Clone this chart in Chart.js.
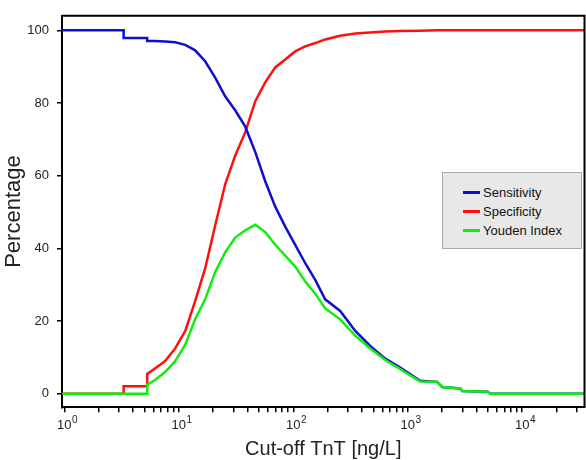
<!DOCTYPE html>
<html lang="en">
<head>
  <meta charset="UTF-8">
  <title>Sensitivity, Specificity and Youden Index by TnT cut-off</title>
  <script src="https://cdn.jsdelivr.net/npm/chart.js"></script>
  <style>
    body { margin: 0; background: #fff; font-family: "Liberation Sans", Arial, Helvetica, sans-serif; }
    .wrap { position: relative; width: 586px; height: 460px; }
    #legendBox {
      position: absolute; left: 442px; top: 172px; width: 140px; height: 77px;
      background: #e8e8e8; border: 1px solid #a8a8a8; box-sizing: border-box;
      font-size: 13px; color: #111; padding-top: 10px;
    }
    .item { display: flex; align-items: center; height: 19px; padding-left: 20px; }
    .swatch { width: 17px; height: 3px; margin-right: 3px; }
  </style>
</head>
<body>
  <div class="wrap">
    <canvas id="chart" width="586" height="460"></canvas>
    <div id="legendBox"></div>
  </div>

  <script>
    const cutoffs = [0.96, 3.3, 3.3, 5.3, 5.3, 6.2, 7.6, 9.3, 11.4, 13.9, 17.0, 20.8, 25.5, 31.1, 38.1, 46.6,
      56.9, 69.6, 85.1, 104, 127, 156, 190, 257, 348, 470, 636, 860, 1285, 1800, 2000, 2876, 3000, 5000, 5260, 35000];
    const sensitivity = [100, 100, 97.9, 97.9, 97.1, 97.1, 96.9, 96.7, 96.0, 94.5, 91.5, 87.0, 81.8, 78.0, 73.5, 66.5,
      58.5, 51.5, 46.0, 41.0, 36.0, 31.3, 26.0, 22.8, 17.3, 13.2, 9.7, 7.2, 3.6, 3.3, 1.9, 1.5, 0.8, 0.6, 0, 0];
    const specificity = [0, 0, 2.1, 2.1, 5.5, 7.0, 9.0, 12.5, 17.3, 25.5, 34.5, 46.3, 57.8, 65.5, 72.0, 80.5,
      85.7, 89.8, 92.0, 94.2, 95.6, 96.5, 97.5, 98.5, 99.1, 99.4, 99.7, 99.8, 99.9, 100, 100, 100, 100, 100, 100, 100];
    const youden = [0, 0, 0, 0, 2.5, 3.8, 6.0, 9.0, 13.5, 20.5, 26.0, 33.5, 39.0, 43.0, 45.0, 46.5,
      44.5, 41.0, 38.0, 35.0, 31.0, 27.5, 23.5, 20.5, 16.0, 12.5, 9.3, 6.8, 3.4, 3.3, 1.9, 1.5, 0.8, 0.6, 0, 0];

    const seriesNames = ["Sensitivity", "Specificity", "Youden Index"];
    const seriesColors = ["#1010cc", "#ff1010", "#10ee10"];

    const xMajorTicks = [1, 10, 100, 1000, 10000];
    const xExponents = ["0", "1", "2", "3", "4"];
    const yTicks = [0, 20, 40, 60, 80, 100];

    const xMin = 0.955, xMax = 35000;
    const fontFamily = "'Liberation Sans', Arial, sans-serif";

    // minor ticks 2..9 inside every decade
    const xTickList = [];
    xMajorTicks.forEach(d => {
      for (let m = 1; m <= 9; m++) {
        if (d * m <= xMax) xTickList.push(d * m);
      }
    });

    const toPoints = arr => arr.map((v, i) => ({ x: cutoffs[i], y: v }));

    // top/right frame lines + "10^n" labels under the log axis
    const frame = {
      id: "frame",
      afterDatasetsDraw(chart) {
        const { ctx, chartArea: a } = chart;
        ctx.save();
        ctx.strokeStyle = "#000";
        ctx.lineWidth = 2;
        ctx.beginPath();
        ctx.moveTo(a.left, a.top);
        ctx.lineTo(a.right, a.top);
        ctx.lineTo(a.right, a.bottom);
        ctx.stroke();
        ctx.restore();
      },
      afterDraw(chart) {
        const { ctx } = chart;
        const xs = chart.scales.x;
        ctx.save();
        ctx.fillStyle = "#222";
        ctx.textBaseline = "alphabetic";
        xMajorTicks.forEach((v, i) => {
          const px = xs.getPixelForValue(v);
          ctx.font = "13px " + fontFamily;
          ctx.textAlign = "center";
          ctx.fillText("10", px, 429);
          const w = ctx.measureText("10").width;
          ctx.font = "10px " + fontFamily;
          ctx.textAlign = "left";
          ctx.fillText(xExponents[i], px + w / 2 + 0.5, 423);
        });
        ctx.restore();
      }
    };

    const data = [sensitivity, specificity, youden];
    const order = [1, 2, 0];

    new Chart(document.getElementById("chart"), {
      type: "line",
      data: {
        datasets: data.map((d, i) => ({
          label: seriesNames[i],
          data: toPoints(d),
          borderColor: seriesColors[i],
          borderWidth: 2.5,
          pointRadius: 0,
          tension: 0,
          order: order[i]
        }))
      },
      options: {
        responsive: false,
        animation: false,
        layout: { padding: { top: 11, right: 1.5, bottom: 0, left: 0 } },
        plugins: { legend: { display: false }, tooltip: { enabled: false } },
        scales: {
          x: {
            type: "logarithmic",
            min: xMin,
            max: xMax,
            afterBuildTicks: s => { s.ticks = xTickList.map(v => ({ value: v })); },
            afterFit: s => { s.height = 52.7; },
            ticks: { autoSkip: false, maxRotation: 0, callback: () => "" },
            grid: { drawOnChartArea: false, drawTicks: true, tickLength: 5, color: "#000", lineWidth: 1.5 },
            border: { display: true, color: "#000", width: 2 },
            title: {
              display: true, text: "Cut-off TnT [ng/L]", color: "#222",
              font: { size: 20, lineHeight: 1, family: fontFamily },
              padding: { top: 0, bottom: 1 }
            }
          },
          y: {
            min: -3.7,
            max: 104,
            afterBuildTicks: s => { s.ticks = yTicks.map(v => ({ value: v })); },
            afterFit: s => { s.width = 62; },
            ticks: { color: "#222", padding: 8, font: { size: 13, family: fontFamily } },
            grid: { drawOnChartArea: false, drawTicks: true, tickLength: 5, color: "#000", lineWidth: 1.5 },
            border: { display: true, color: "#000", width: 2 },
            title: {
              display: true, text: "Percentage", color: "#222",
              font: { size: 22, lineHeight: 1, family: fontFamily },
              padding: { top: 3, bottom: 0 }
            }
          }
        }
      },
      plugins: [frame]
    });

    const legendBox = document.getElementById("legendBox");
    seriesNames.forEach((name, i) => {
      const row = document.createElement("div");
      row.className = "item";
      row.innerHTML = `<span class="swatch" style="background:${seriesColors[i]}"></span><span>${name}</span>`;
      legendBox.appendChild(row);
    });
  </script>
</body>
</html>
